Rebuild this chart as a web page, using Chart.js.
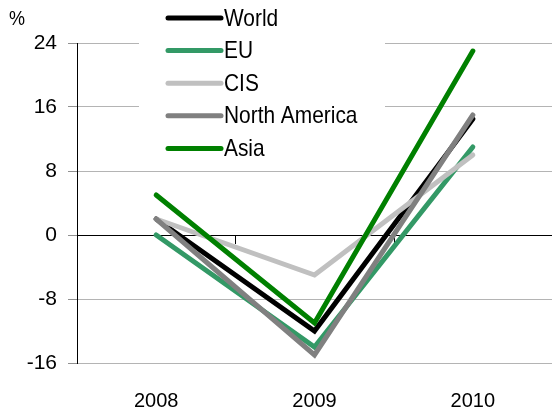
<!DOCTYPE html>
<html>
<head>
<meta charset="utf-8">
<script src="https://cdn.jsdelivr.net/npm/chart.js@4/dist/chart.umd.min.js"></script>
<style>
  body { margin: 0; background: #fff; }
  #wrap { position: relative; width: 552px; height: 411px; }
  #unit { position: absolute; left: 9px; top: 7px; font: 20px 'Liberation Sans', sans-serif; transform: scaleX(0.9); transform-origin: left top; }
</style>
</head>
<body>
<div id="wrap">
  <canvas id="chartLine" width="552" height="411"></canvas>
  <div id="unit">%</div>
</div>
<script>
const years = ['2008', '2009', '2010'];
const world = [2, -12, 14.5];
const eu = [0, -14, 11];
const cis = [2, -5, 10];
const northAmerica = [2, -15, 15];
const asia = [5, -11, 23];
const yTicks = [-16, -8, 0, 8, 16, 24];

const FONT = "'Liberation Sans', sans-serif";

const series = (label, data, color, order) => ({
    label: label,
    data: data,
    borderColor: color,
    backgroundColor: color,
    borderWidth: 5,
    pointRadius: 0,
    tension: 0,
    borderCapStyle: 'round',
    borderJoinStyle: 'miter',
    clip: false,
    order: order
});

// little ticks hanging under the zero line between categories
const zeroTicks = {
    id: 'zeroTicks',
    beforeDatasetsDraw(chart) {
        const x = chart.scales.x, y = chart.scales.y, c = chart.ctx;
        const y0 = y.getPixelForValue(0);
        c.save();
        c.strokeStyle = '#000';
        c.lineWidth = 1;
        for (let i = 1; i < years.length; i++) {
            const px = Math.round((x.getPixelForValue(i - 1) + x.getPixelForValue(i)) / 2) + 0.5;
            c.beginPath();
            c.moveTo(px, y0);
            c.lineTo(px, y0 + 9);
            c.stroke();
        }
        c.restore();
    }
};

// legend stacked in a white box over the top of the plot, narrow lettering
const boxLegend = {
    id: 'boxLegend',
    afterDraw(chart) {
        const c = chart.ctx;
        c.save();
        c.fillStyle = '#fff';
        c.fillRect(139, 0, 246, 163);
        c.textBaseline = 'middle';
        c.lineCap = 'round';
        chart.data.datasets.forEach((ds, i) => {
            const yy = 18 + i * 32.6;
            c.strokeStyle = ds.borderColor;
            c.lineWidth = 5;
            c.beginPath();
            c.moveTo(168, yy);
            c.lineTo(221, yy);
            c.stroke();
            c.save();
            c.translate(224, yy + 1);
            c.scale(0.87, 1);
            c.font = '24px ' + FONT;
            c.fillStyle = '#000';
            c.fillText(ds.label, 0, 0);
            c.restore();
        });
        c.restore();
    }
};

var ctx = document.getElementById('chartLine').getContext('2d');
var chart = new Chart(ctx, {
    type: 'line',
    data: {
        labels: years,
        datasets: [
            series('World', world, '#000000', 4),
            series('EU', eu, '#339966', 3),
            series('CIS', cis, '#c0c0c0', 2),
            series('North America', northAmerica, '#808080', 1),
            series('Asia', asia, '#008000', 0)
        ]
    },
    options: {
        responsive: false,
        animation: false,
        layout: { padding: { top: 43, right: 0, left: 0, bottom: 0 } },
        plugins: { legend: { display: false }, tooltip: { enabled: false } },
        scales: {
            x: {
                offset: true,
                grid: { display: false, drawTicks: false },
                border: { display: false },
                ticks: { color: '#000', font: { family: FONT, size: 20 }, padding: 26, maxRotation: 0 },
                afterFit: (s) => { s.height = 48; }
            },
            y: {
                min: -16,
                max: 24,
                afterBuildTicks: (s) => { s.ticks = yTicks.map(v => ({ value: v })); },
                grid: {
                    color: (c) => c.tick && c.tick.value === 0 ? '#000' : '#b4b4b4',
                    tickColor: '#909090',
                    tickLength: 9,
                    lineWidth: 1
                },
                border: { display: true, color: '#000', width: 1 },
                ticks: { color: '#000', font: { family: FONT, size: 21 }, padding: 11 },
                afterFit: (s) => { s.width = 77; }
            }
        }
    },
    plugins: [zeroTicks, boxLegend]
});
</script>
</body>
</html>
